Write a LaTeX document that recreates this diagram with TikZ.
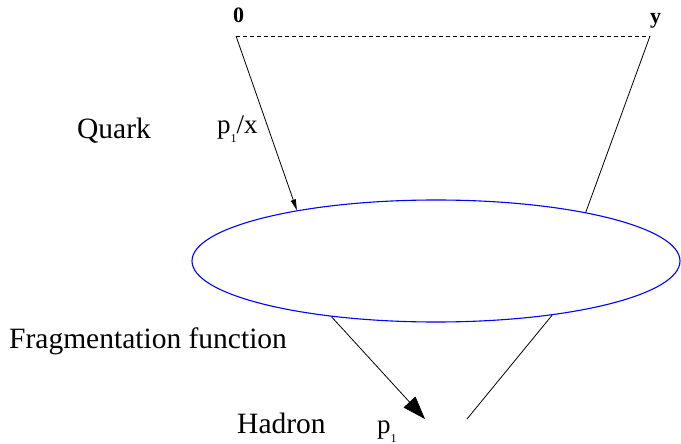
\documentclass[tikz,border=0pt]{standalone}
\usepackage{fontspec}
\setmainfont{Liberation Serif}
\usetikzlibrary{arrows.meta,positioning,shapes.geometric}
\newcommand{\pone}{p\raisebox{-9pt}{\fontsize{12}{12}\selectfont 1}}

\begin{document}
\begin{tikzpicture}[x=1pt,y=-1pt,
    lbl/.style={font=\fontsize{29.5}{32}\selectfont, inner sep=0, anchor=base west},
    ends/.style={font=\bfseries\fontsize{22}{24}\selectfont, inner sep=0, anchor=base west},
    line/.style={line width=0.8pt}]
  \useasboundingbox (0,0) rectangle (681,444);
  % the two end points
  \coordinate (orig) at (236,36);
  \coordinate (yend) at (650,36);
  \node[ends] (zero) at (233,23) {0};
  \node[ends] (why) at (650,24) {y};
  \draw[line,dash pattern=on 4pt off 3pt] (orig) -- (yend);
  % blob
  \node[draw=blue, line width=1.1pt, ellipse, minimum width=488pt,
        minimum height=122pt, inner sep=0] (blob) at (436,261) {};
  % quark lines
  \draw[line,-{Triangle[length=11pt,width=5pt]}] (orig) -- (blob.160.7);
  \draw[line] (yend) -- (blob.18);
  % hadron lines
  \coordinate (tip) at (425,419);
  \coordinate (tail) at (467,419);
  \draw[line,-{Triangle[length=23pt,width=16pt]}] (blob.208.3) -- (tip);
  \draw[line] (blob.335.3) -- (tail);
  % labels
  \node[lbl] (quark) at (77,139) {Quark};
  \node[lbl,font=\fontsize{27}{29}\selectfont] (mom) at (217,134) {\pone/x};
  \node[lbl] (frag) at (9,348) {Fragmentation function};
  \node[lbl] (hadron) at (237,433) {Hadron};
  \node[lbl,font=\fontsize{27}{29}\selectfont] (hmom) at (377,433) {\pone};
\end{tikzpicture}
\end{document}
